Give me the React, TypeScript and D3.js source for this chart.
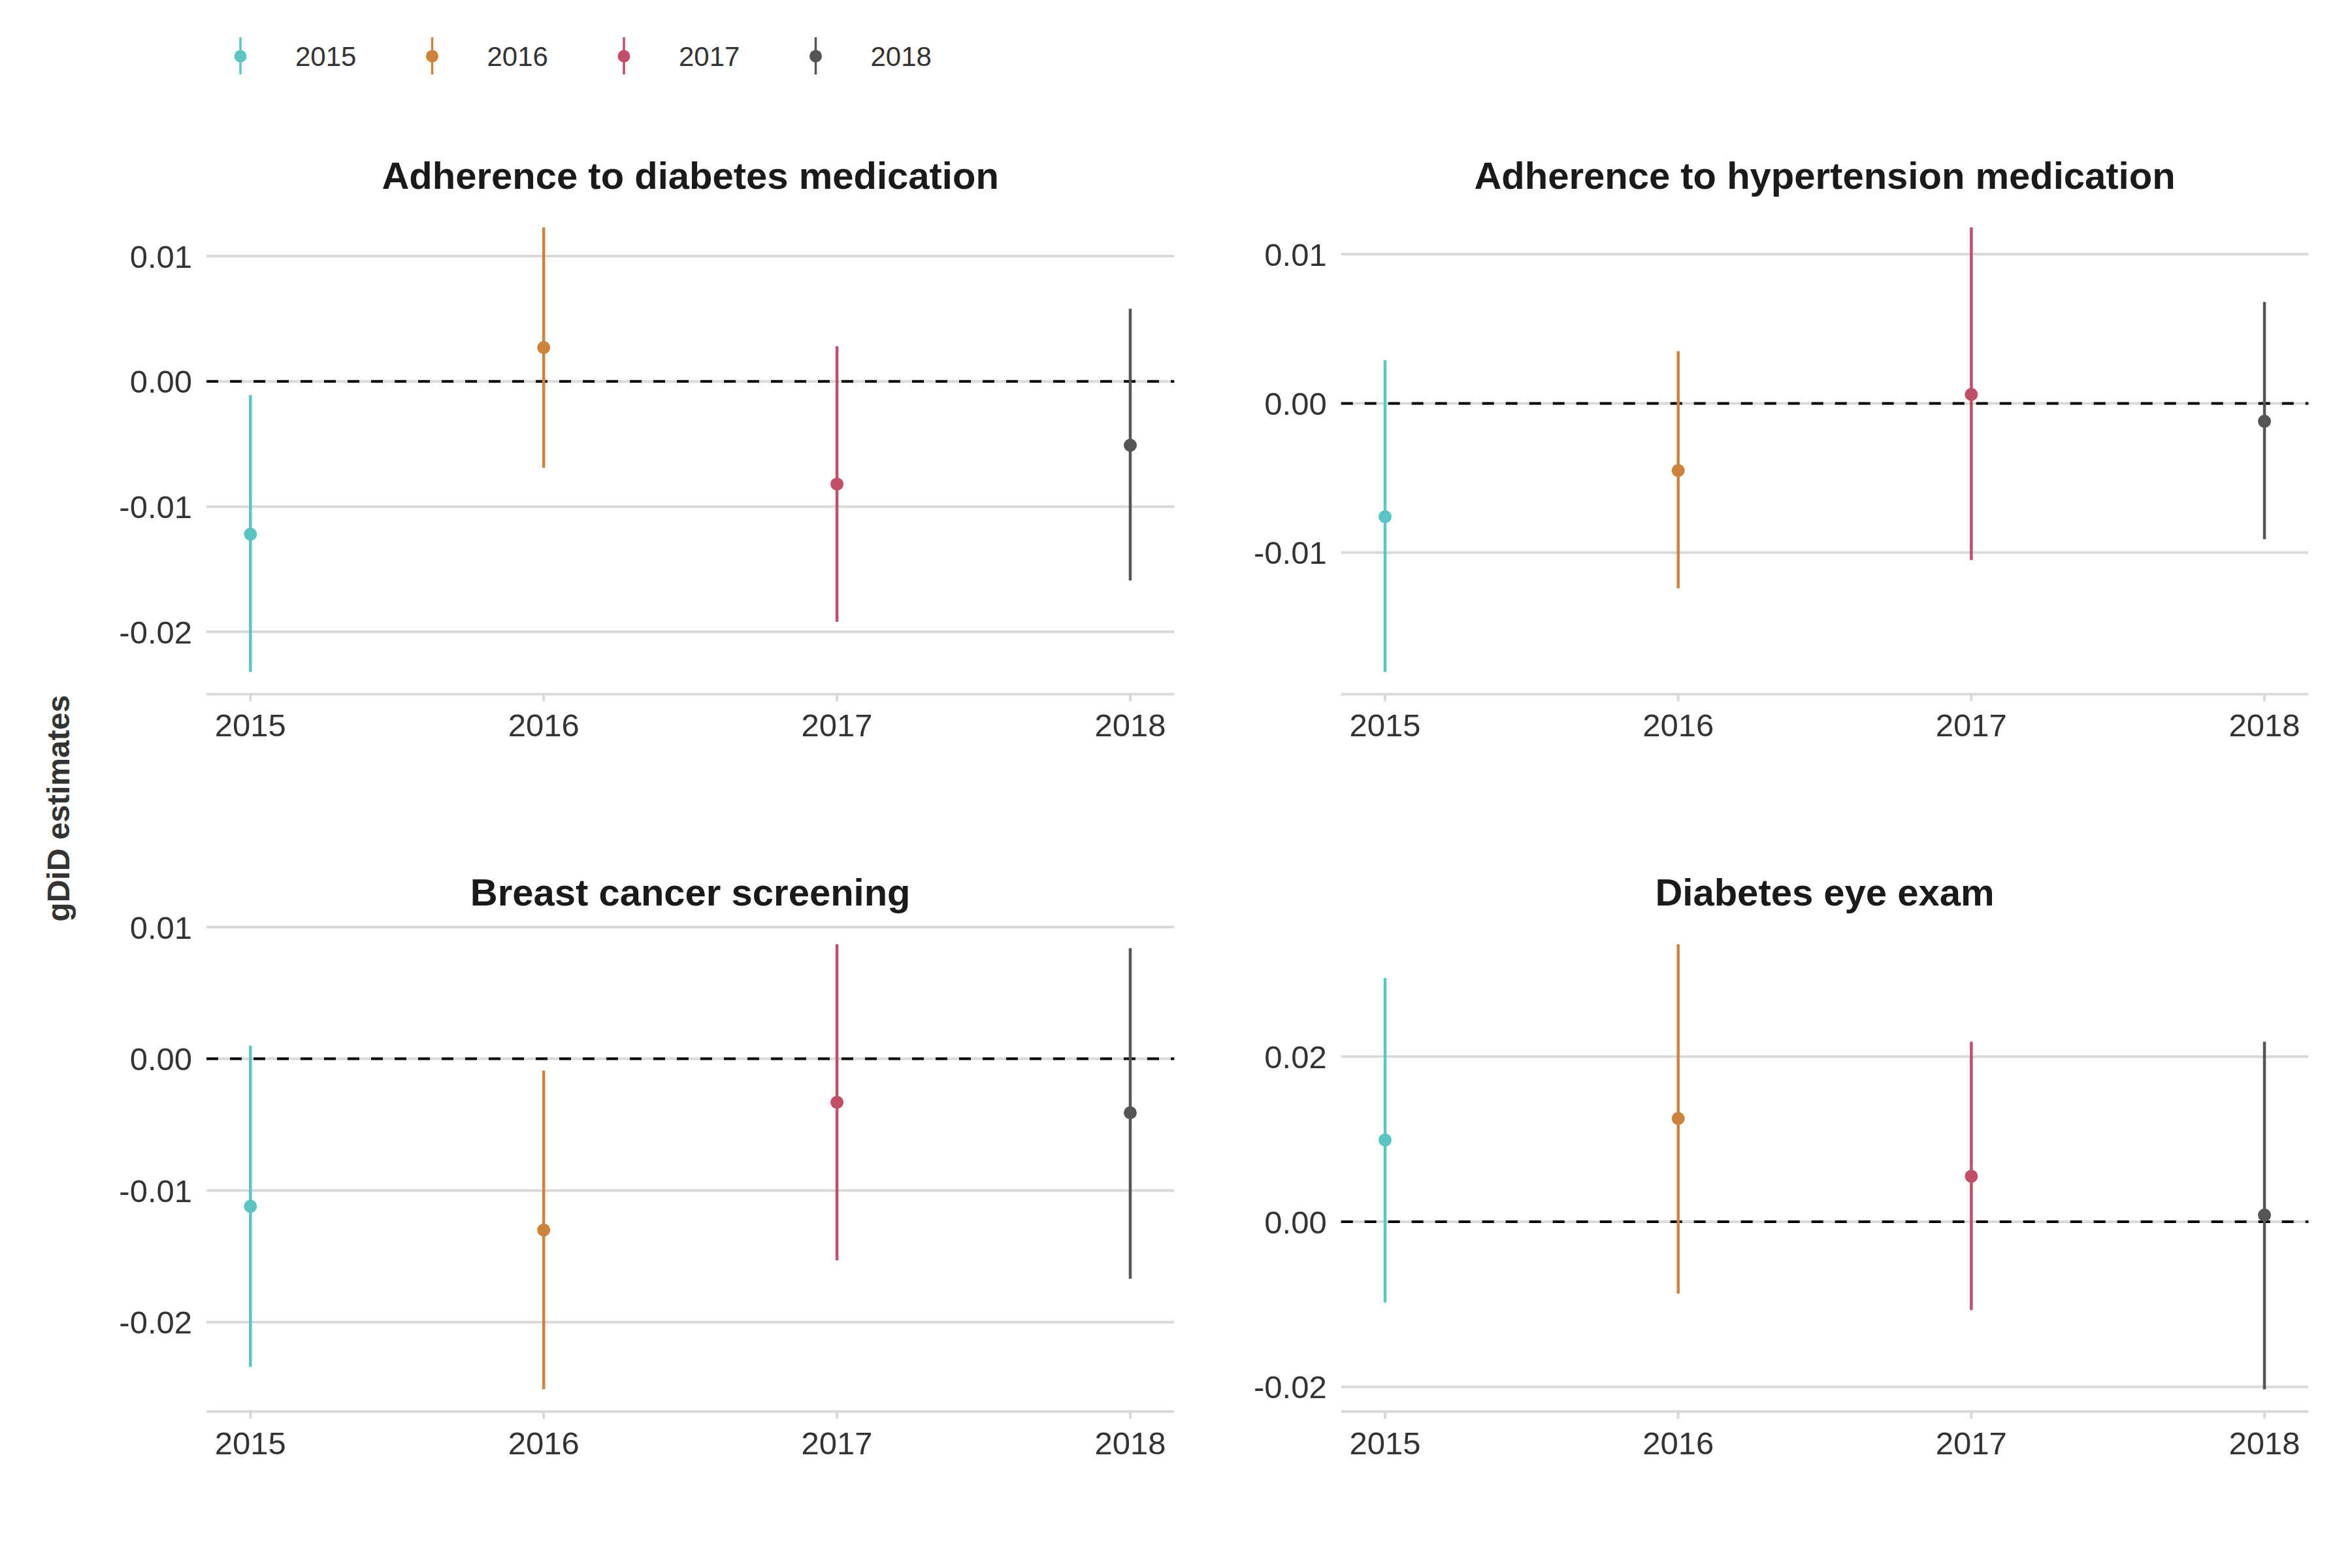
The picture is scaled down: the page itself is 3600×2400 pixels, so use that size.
import React from "react";
import * as d3 from "d3";

const years = [2015, 2016, 2017, 2018];
const yearColors = ["#5cc5c4", "#cc843c", "#c24f68", "#555555"];

const panelTitles = [
  "Adherence to diabetes medication",
  "Adherence to hypertension medication",
  "Breast cancer screening",
  "Diabetes eye exam",
];

const estDiabetesMed = [-0.0122, 0.0027, -0.0082, -0.0051];
const loDiabetesMed = [-0.0232, -0.0069, -0.0192, -0.0159];
const hiDiabetesMed = [-0.0011, 0.0123, 0.0028, 0.0058];

const estHypertension = [-0.0076, -0.0045, 0.0006, -0.0012];
const loHypertension = [-0.018, -0.0124, -0.0105, -0.0091];
const hiHypertension = [0.0029, 0.0035, 0.0118, 0.0068];

const estBreast = [-0.0112, -0.013, -0.0033, -0.0041];
const loBreast = [-0.0234, -0.0251, -0.0153, -0.0167];
const hiBreast = [0.001, -0.0009, 0.0087, 0.0084];

const estEye = [0.0099, 0.0125, 0.0055, 0.0008];
const loEye = [-0.0098, -0.0087, -0.0107, -0.0203];
const hiEye = [0.0295, 0.0336, 0.0218, 0.0218];

const ticksDiabetesMed = [-0.02, -0.01, 0, 0.01];
const ticksHypertension = [-0.01, 0, 0.01];
const ticksBreast = [-0.02, -0.01, 0, 0.01];
const ticksEye = [-0.02, 0, 0.02];

const yAxisTitle = "gDiD estimates";

const panelData = [
  { est: estDiabetesMed, lo: loDiabetesMed, hi: hiDiabetesMed, ticks: ticksDiabetesMed },
  { est: estHypertension, lo: loHypertension, hi: hiHypertension, ticks: ticksHypertension },
  { est: estBreast, lo: loBreast, hi: hiBreast, ticks: ticksBreast },
  { est: estEye, lo: loEye, hi: hiEye, ticks: ticksEye },
];

const W = 3600;
const H = 2400;
const FONT = "'Liberation Sans', Arial, Helvetica, sans-serif";
const GRID = "#d9d9d9";
const TEXT = "#333333";

const cols = [
  { x0: 316, x1: 1797.3 },
  { x0: 2052.7, x1: 3533.3 },
];
const rows = [
  { y0: 314, y1: 1062.4 },
  { y0: 1411.2, y1: 2160.6 },
];

const fmt = (v: number) => d3.format(".2f")(v).replace("\u2212", "-");

function Panel({ idx }: { idx: number }) {
  const d = panelData[idx];
  const col = cols[idx % 2];
  const row = rows[Math.floor(idx / 2)];
  const x = d3
    .scaleLinear()
    .domain([d3.min(years)! - 0.15, d3.max(years)! + 0.15])
    .range([col.x0, col.x1]);
  const mn = d3.min(d.lo)!;
  const mx = d3.max(d.hi)!;
  const pad = (mx - mn) * 0.05;
  const y = d3.scaleLinear().domain([mn - pad, mx + pad]).range([row.y1, row.y0]);
  const cx = (col.x0 + col.x1) / 2;
  return (
    <g>
      <text
        x={cx}
        y={row.y0 - 25}
        textAnchor="middle"
        fontFamily={FONT}
        fontWeight="bold"
        fontSize={58}
        fill="#1a1a1a"
      >
        {panelTitles[idx]}
      </text>
      {d.ticks.map((t) => (
        <g key={t}>
          <line x1={col.x0} x2={col.x1} y1={y(t)} y2={y(t)} stroke={GRID} strokeWidth={4} />
          <text
            x={col.x0 - 22}
            y={y(t)}
            dy="0.36em"
            textAnchor="end"
            fontFamily={FONT}
            fontSize={49}
            fill={TEXT}
          >
            {fmt(t)}
          </text>
        </g>
      ))}
      <line x1={col.x0} x2={col.x1} y1={row.y1} y2={row.y1} stroke={GRID} strokeWidth={4} />
      {years.map((yr) => (
        <g key={yr}>
          <line x1={x(yr)} x2={x(yr)} y1={row.y1} y2={row.y1 + 11} stroke={GRID} strokeWidth={4} />
          <text
            x={x(yr)}
            y={row.y1 + 65}
            textAnchor="middle"
            fontFamily={FONT}
            fontSize={49}
            fill={TEXT}
          >
            {yr}
          </text>
        </g>
      ))}
      <line
        x1={col.x0}
        x2={col.x1}
        y1={y(0)}
        y2={y(0)}
        stroke="#000"
        strokeWidth={4}
        strokeDasharray="18 18"
      />
      {years.map((yr, i) => (
        <g key={"e" + yr}>
          <line
            x1={x(yr)}
            x2={x(yr)}
            y1={y(d.lo[i])}
            y2={y(d.hi[i])}
            stroke={yearColors[i]}
            strokeWidth={4.5}
          />
          <circle cx={x(yr)} cy={y(d.est[i])} r={10} fill={yearColors[i]} />
        </g>
      ))}
    </g>
  );
}

function Legend() {
  const lx = d3.scaleLinear().domain([0, 1]).range([368, 661.5]);
  return (
    <g>
      {years.map((yr, i) => (
        <g key={yr}>
          <line x1={lx(i)} x2={lx(i)} y1={57} y2={114} stroke={yearColors[i]} strokeWidth={3.5} />
          <circle cx={lx(i)} cy={86} r={9.5} fill={yearColors[i]} />
          <text x={lx(i) + 84} y={101} fontFamily={FONT} fontSize={42} fill={TEXT}>
            {yr}
          </text>
        </g>
      ))}
    </g>
  );
}

export default function App() {
  return (
    <svg
      width={W}
      height={H}
      viewBox={`0 0 ${W} ${H}`}
      style={{ position: "absolute", left: 0, top: 0, background: "#fff" }}
    >
      <rect x={0} y={0} width={W} height={H} fill="#fff" />
      <Legend />
      {[0, 1, 2, 3].map((i) => (
        <Panel key={i} idx={i} />
      ))}
      <text
        transform={`translate(106, ${(rows[0].y0 + rows[1].y1) / 2}) rotate(-90)`}
        textAnchor="middle"
        fontFamily={FONT}
        fontWeight="bold"
        fontSize={48}
        fill={TEXT}
      >
        {yAxisTitle}
      </text>
    </svg>
  );
}
